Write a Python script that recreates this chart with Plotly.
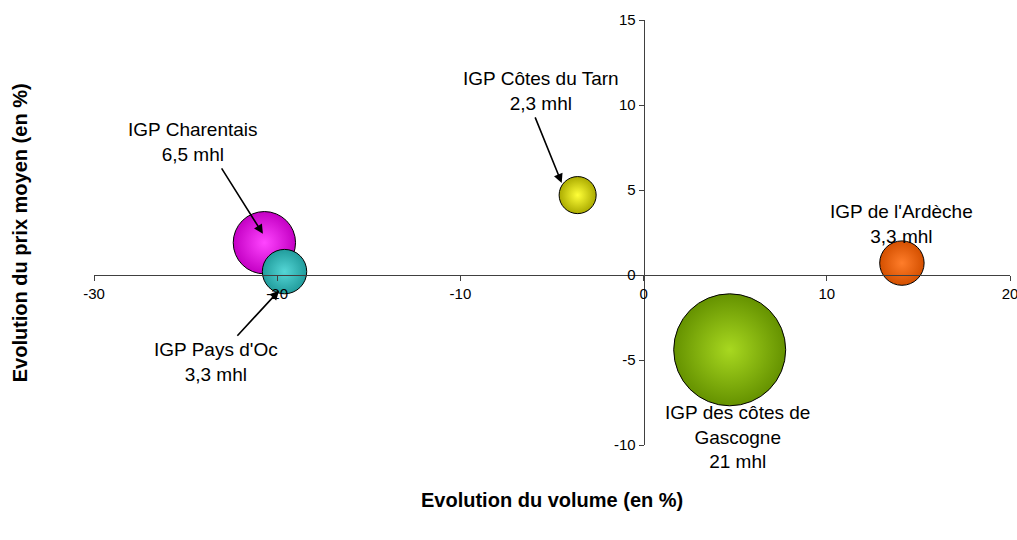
import plotly.graph_objects as go

# ---- data ----
igp_names = ["IGP Charentais", "IGP Pays d'Oc", "IGP Côtes du Tarn",
             "IGP des côtes de<br>Gascogne", "IGP de l'Ardèche"]
volume_change = [-20.7, -19.6, -3.6, 4.7, 14.1]     # Evolution du volume (%)
price_change = [1.9, 0.2, 4.7, -4.4, 0.7]           # Evolution du prix moyen (%)
volume_mhl = [6.5, 3.3, 2.3, 21, 3.3]               # bubble size (mhl)
volume_text = ["6,5 mhl", "3,3 mhl", "2,3 mhl", "21 mhl", "3,3 mhl"]

x_ticks = [-30, -20, -10, 0, 10, 20]
y_ticks = [-10, -5, 0, 5, 10, 15]

# ---- styles ----
edge_colors = ["#C400C4", "#219C9C", "#ABAB00", "#659200", "#D45000"]
center_colors = ["#FF45FF", "#55D6D6", "#FFFF38", "#A8D820", "#FF7D2A"]
FONT = "Arial, Liberation Sans, sans-serif"
x_range = [x_ticks[0], x_ticks[-1]]
y_range = [y_ticks[0], y_ticks[-1]]
max_diam = 112

fig = go.Figure()
for i in range(len(igp_names)):
    fig.add_trace(go.Scatter(
        x=[volume_change[i]], y=[price_change[i]], mode="markers",
        marker=dict(size=[volume_mhl[i]], sizemode="area",
                    sizeref=2.0 * max(volume_mhl) / max_diam ** 2,
                    color=edge_colors[i],
                    gradient=dict(type="radial", color=center_colors[i]),
                    line=dict(color="black", width=1), opacity=1),
        showlegend=False, hoverinfo="skip"))

# label placement (data coordinates) and arrows
label_pos = {0: (-24.6, 7.8), 1: (-23.35, -5.1), 2: (-5.6, 10.8),
             3: (5.15, -9.55), 4: (14.1, 3.0)}
arrows = {0: ((-23.05, 6.3), (-20.78, 2.42)),
          1: ((-22.2, -3.6), (-19.9, -0.92)),
          2: ((-5.93, 9.3), (-4.47, 5.41))}

for i, (lx, ly) in label_pos.items():
    fig.add_annotation(x=lx, y=ly, xref="x", yref="y",
                       text=igp_names[i] + "<br>" + volume_text[i],
                       showarrow=False, align="center",
                       font=dict(family=FONT, size=19, color="black"))
for i, ((tx, ty), (hx, hy)) in arrows.items():
    fig.add_annotation(x=hx, y=hy, ax=tx, ay=ty, xref="x", yref="y",
                       axref="x", ayref="y", text="", showarrow=True,
                       font=dict(size=1), borderpad=0,
                       arrowhead=2, arrowsize=1.15, arrowwidth=1.6,
                       arrowcolor="black", standoff=0, startstandoff=0)

axis_common = dict(showgrid=False, zeroline=False, showline=True,
                   linecolor="#404040", linewidth=1, ticks="outside",
                   ticklen=5, tickcolor="#404040", tickwidth=1,
                   tickfont=dict(family=FONT, size=15, color="black"),
                   ticklabeloverflow="allow", automargin=False,
                   anchor="free")

fig.update_xaxes(range=x_range, tickvals=x_ticks,
                 ticktext=[str(t) for t in x_ticks],
                 position=(0 - y_range[0]) / (y_range[1] - y_range[0]),
                 **axis_common)
fig.update_yaxes(range=y_range, tickvals=y_ticks,
                 ticktext=[str(t) for t in y_ticks],
                 position=(0 - x_range[0]) / (x_range[1] - x_range[0]),
                 **axis_common)

fig.add_annotation(text="<b>Evolution du volume (en %)</b>", xref="paper",
                   yref="paper", x=0.5, y=-0.13, yanchor="middle",
                   showarrow=False, font=dict(family=FONT, size=20, color="black"))
fig.add_annotation(text="<b>Evolution du prix moyen (en %)</b>", xref="paper",
                   yref="paper", x=-0.081, y=0.5, textangle=-90,
                   xanchor="center", showarrow=False,
                   font=dict(family=FONT, size=20, color="black"))

fig.update_layout(width=1017, height=540, paper_bgcolor="white",
                  plot_bgcolor="white",
                  margin=dict(l=94, r=7, t=20, b=95, autoexpand=False))

fig.write_html("out.html", config={"displayModeBar": False},
               post_script="document.body.style.margin='0';")
